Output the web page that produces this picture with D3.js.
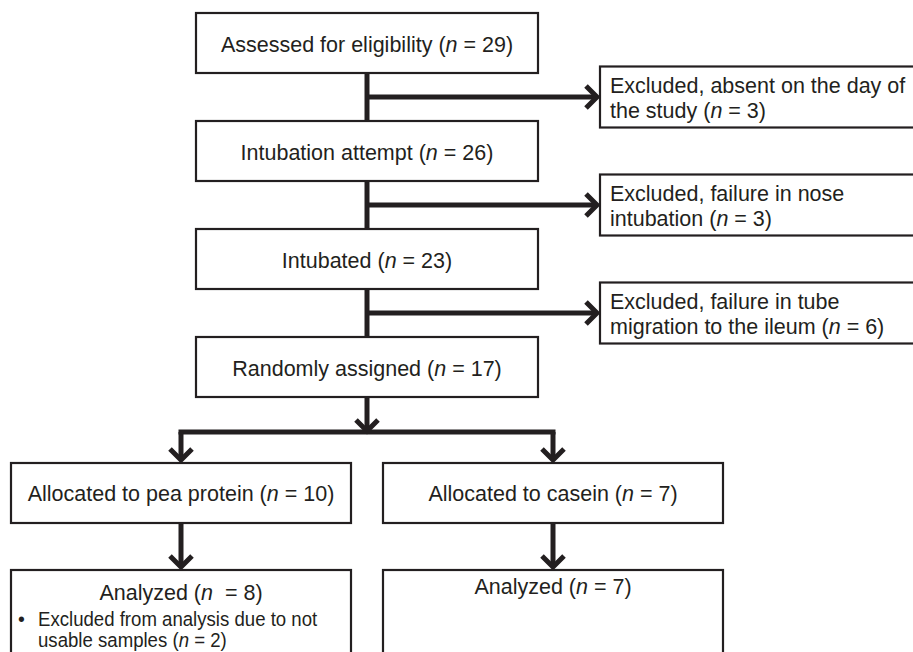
<!DOCTYPE html>
<html>
<head>
<meta charset="utf-8">
<script src="https://cdn.jsdelivr.net/npm/d3@7"></script>
<style>
  html, body { margin: 0; padding: 0; background: #fff; }
  svg { display: block; }
  text { font-family: "Liberation Sans", Arial, Helvetica, sans-serif; fill: #231f20; white-space: pre; }
</style>
</head>
<body>
<svg id="chart" width="913" height="652"></svg>
<script>
// ---- data ----
const mainSteps = ["Assessed for eligibility", "Intubation attempt", "Intubated", "Randomly assigned"];
const mainCounts = [29, 26, 23, 17];
const exclusionLines = [
  ["Excluded, absent on the day of", "the study"],
  ["Excluded, failure in nose", "intubation"],
  ["Excluded, failure in tube", "migration to the ileum"]
];
const exclusionCounts = [3, 3, 6];
const armLabels = ["Allocated to pea protein", "Allocated to casein"];
const armCounts = [10, 7];
const analyzedLabels = ["Analyzed", "Analyzed"];
const analyzedCounts = [8, 7];
const analyzedGaps = ["  ", " "];
const analyzedNotes = [["Excluded from analysis due to not", "usable samples"], []];
const analyzedNoteCounts = [2, null];

// ---- layout ----
const svg = d3.select("#chart");
const ink = "#231f20";
const fs = 21.5;
const noteFs = 19.5;
const noteSx = 0.955;
const boxH = 60;
const rowY = d3.scaleLinear().domain([0, mainSteps.length - 1]).range([13, 337]);
const mainX0 = 196, mainX1 = 538, spineX = 367;
const sideX0 = 600, sideX1 = 916;
const armX = d3.scalePoint().domain(d3.range(armLabels.length)).range([181, 553]);
const armW = 340;
const armRowY = [463, 570];
const splitY = 432;

svg.append("rect").attr("width", 913).attr("height", 652).attr("fill", "#fff");

function addText(sel, x, y, pre, n, anchor, extraGap, size) {
  const t = sel.append("text").attr("x", x).attr("y", y)
    .attr("font-size", size || fs).attr("text-anchor", anchor || "start");
  t.append("tspan").text(pre + "(");
  t.append("tspan").attr("font-style", "italic").text("n");
  t.append("tspan").text((extraGap || " ") + "= " + n + ")");
  return t;
}
function box(x0, y0, x1, y1) {
  svg.append("rect").attr("x", x0).attr("y", y0).attr("width", x1 - x0).attr("height", y1 - y0)
    .attr("fill", "#fff").attr("stroke", ink).attr("stroke-width", 2.2);
}
function line(x0, y0, x1, y1) {
  svg.append("line").attr("x1", x0).attr("y1", y0).attr("x2", x1).attr("y2", y1)
    .attr("stroke", ink).attr("stroke-width", 5);
}
function chevDown(x, y) {
  svg.append("path").attr("d", `M${x - 11},${y - 14}L${x},${y - 3}L${x + 11},${y - 14}`)
    .attr("fill", "none").attr("stroke", ink).attr("stroke-width", 5).attr("stroke-linejoin", "miter");
}
function chevRight(x, y) {
  svg.append("path").attr("d", `M${x - 14},${y - 11}L${x - 3},${y}L${x - 14},${y + 11}`)
    .attr("fill", "none").attr("stroke", ink).attr("stroke-width", 5).attr("stroke-linejoin", "miter");
}

// connectors of main spine
mainSteps.forEach((s, i) => {
  const yb = rowY(i) + boxH;
  if (i < mainSteps.length - 1) {
    line(spineX, yb, spineX, rowY(i + 1));
    const by = (yb + rowY(i + 1)) / 2;
    line(spineX, by, sideX0 - 3, by);
    chevRight(sideX0, by);
  } else {
    line(spineX, yb, spineX, splitY);
    chevDown(spineX, splitY + 2);
  }
});
// split
line(armX(0) - 2.5, splitY, armX(1) + 2.5, splitY);
armLabels.forEach((a, j) => {
  line(armX(j), splitY, armX(j), armRowY[0] - 3);
  chevDown(armX(j), armRowY[0]);
  line(armX(j), armRowY[0] + boxH, armX(j), armRowY[1] - 3);
  chevDown(armX(j), armRowY[1]);
});

// main boxes
mainSteps.forEach((s, i) => {
  box(mainX0, rowY(i), mainX1, rowY(i) + boxH);
  addText(svg, (mainX0 + mainX1) / 2, rowY(i) + boxH / 2 + 8.5, s + " ", mainCounts[i], "middle");
});

// exclusion boxes
exclusionLines.forEach((lines, i) => {
  const by = (rowY(i) + boxH + rowY(i + 1)) / 2;
  const y0 = by - 30.5;
  box(sideX0, y0, sideX1, y0 + 61);
  lines.forEach((l, k) => {
    const y = y0 + 26 + k * 25.5;
    if (k === lines.length - 1) addText(svg, 610, y, l + " ", exclusionCounts[i], "start");
    else svg.append("text").attr("x", 610).attr("y", y).attr("font-size", fs).text(l);
  });
});

// arm boxes
armLabels.forEach((a, j) => {
  const cx = armX(j);
  box(cx - armW / 2, armRowY[0], cx + armW / 2, armRowY[0] + boxH);
  addText(svg, cx, armRowY[0] + boxH / 2 + 8, a + " ", armCounts[j], "middle");
  box(cx - armW / 2, armRowY[1], cx + armW / 2, 700);
  addText(svg, cx, (j === 0 ? 600 : 594), analyzedLabels[j] + " ", analyzedCounts[j], "middle", analyzedGaps[j]);
  const notes = analyzedNotes[j];
  notes.forEach((l, k) => {
    const y = 626 + k * 21;
    if (k === 0) svg.append("text").attr("x", cx - armW / 2 + 7).attr("y", y).attr("font-size", noteFs).text("•");
    const g = svg.append("g").attr("transform", `translate(${cx - armW / 2 + 27},${y}) scale(${noteSx},1)`);
    if (k === notes.length - 1) addText(g, 0, 0, l + " ", analyzedNoteCounts[j], "start", " ", noteFs);
    else g.append("text").attr("x", 0).attr("y", 0).attr("font-size", noteFs).text(l);
  });
});
</script>
</body>
</html>
